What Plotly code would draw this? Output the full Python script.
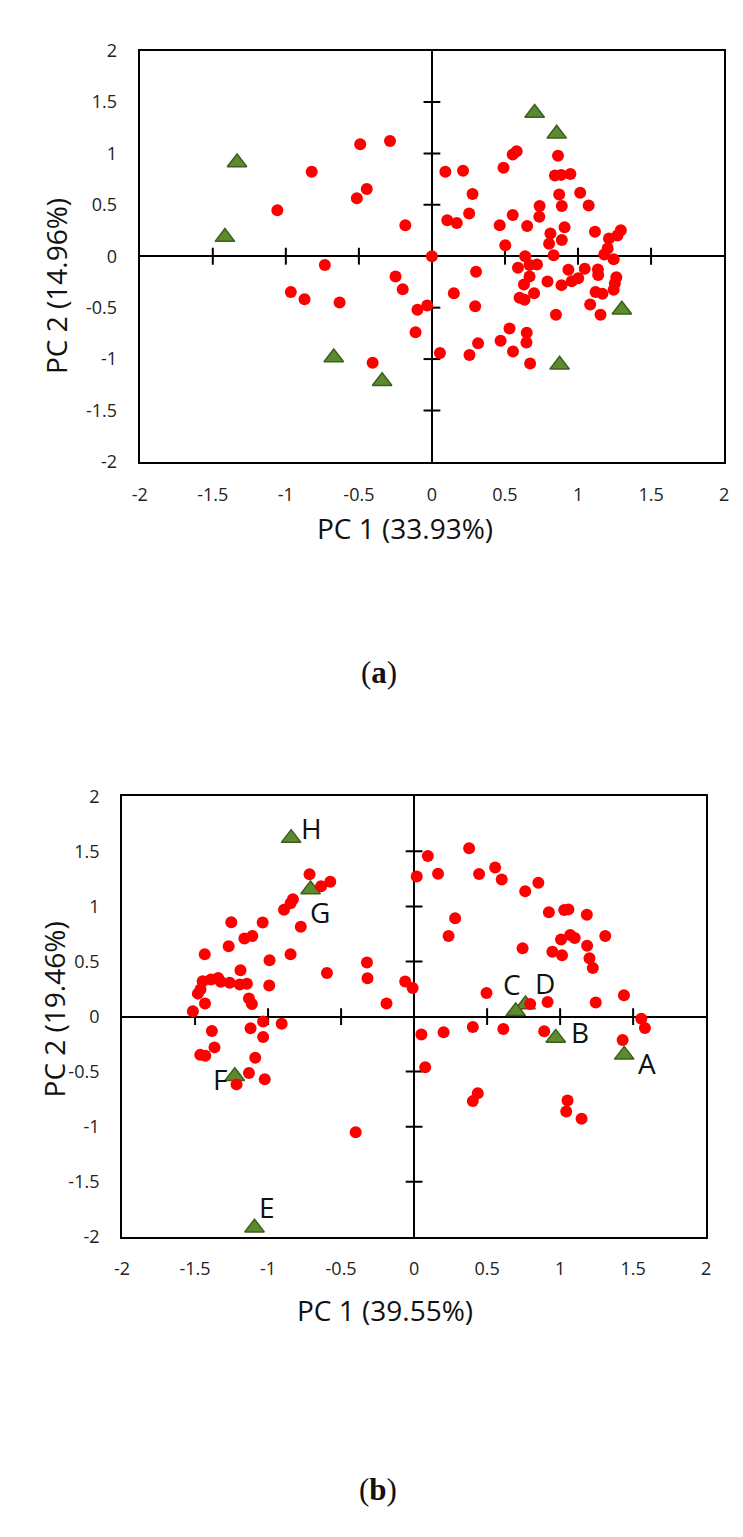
import plotly.graph_objects as go

# ---------------- data: panel (a) ----------------
a_samples_pc1 = [-0.491, -0.287, -0.823, -0.446, -0.514, -1.058, -0.182, 0.0,
                 -0.733, -0.966, -0.872, -0.632, -0.249, -0.200, -0.099, -0.032, -0.112, 0.055, -0.406,
                 0.553, 0.580, 0.863, 0.092, 0.213, 0.490, 0.842, 0.885, 0.948, 0.278, 0.871, 1.015,
                 0.737, 0.889, 1.073, 0.105, 0.170, 0.255, 0.553, 0.735, 0.464, 0.652, 0.908, 0.811,
                 0.802, 0.889, 0.502, 1.116, 1.212, 1.270, 1.293, 1.203, 1.180, 0.638, 0.833, 1.244,
                 0.302, 0.589, 0.668, 0.719, 0.668, 0.630, 0.791, 0.934, 1.046, 0.887, 0.957, 1.001,
                 1.136, 1.138, 1.262, 1.252, 1.244, 1.120, 1.167, 0.600, 0.634, 0.699, 0.150, 0.296,
                 1.083, 1.154, 0.849, 0.531, 0.649, 0.647, 0.470, 0.555, 0.316, 0.257, 0.672]
a_samples_pc2 = [1.088, 1.120, 0.822, 0.653, 0.563, 0.448, 0.301, 0.0,
                 -0.086, -0.348, -0.418, -0.451, -0.198, -0.322, -0.521, -0.480, -0.739, -0.940, -1.036,
                 0.990, 1.020, 0.976, 0.822, 0.832, 0.861, 0.784, 0.791, 0.800, 0.605, 0.599, 0.618,
                 0.489, 0.489, 0.493, 0.349, 0.323, 0.416, 0.400, 0.384, 0.301, 0.295, 0.282, 0.221,
                 0.122, 0.157, 0.106, 0.237, 0.173, 0.202, 0.253, 0.074, 0.016, 0.000, 0.010, -0.030,
                 -0.150, -0.112, -0.086, -0.080, -0.198, -0.275, -0.246, -0.131, -0.121, -0.281, -0.243, -0.214,
                 -0.128, -0.182, -0.204, -0.265, -0.326, -0.348, -0.365, -0.403, -0.422, -0.361, -0.361, -0.486,
                 -0.470, -0.569, -0.569, -0.703, -0.745, -0.838, -0.822, -0.927, -0.845, -0.960, -1.042]
a_ref_pc1 = [-1.334, -1.417, -0.672, -0.341, 0.703, 0.854, 1.300, 0.874]
a_ref_pc2 = [0.912, 0.186, -0.985, -1.215, 1.392, 1.190, -0.520, -1.056]

# ---------------- data: panel (b) ----------------
b_samples_pc1 = [-0.716, -0.637, -0.574, -0.830, -0.846, -0.891, -0.776, -1.252, -1.037, -1.162,
                 -1.108, -1.270, -1.434, -0.846, -0.990, -1.189, -0.597, -0.323, -0.319, -0.061,
                 -0.010, -0.189, -1.448, -1.391, -1.342, -1.324, -1.263, -1.194, -1.145, -0.992,
                 -1.463, -1.481, -1.131, -1.111, -1.432, -1.515, -1.034, -0.907, -1.120, -1.385,
                 -1.034, -1.367, -1.465, -1.430, -1.088, -1.131, -1.023, -1.216, -0.400,
                 0.094, 0.377, 0.018, 0.164, 0.445, 0.555, 0.600, 0.761, 0.851, 0.923,
                 1.028, 1.057, 1.183, 0.281, 0.236, 0.743, 1.006, 1.069, 1.100, 1.309,
                 1.185, 0.947, 1.013, 1.201, 1.224, 0.496, 0.795, 0.914, 1.244, 1.437,
                 1.556, 1.581, 0.050, 0.202, 0.402, 0.611, 0.891, 1.428, 0.076, 0.436,
                 0.402, 1.051, 1.042, 1.147]
b_samples_pc2 = [1.291, 1.184, 1.223, 1.065, 1.029, 0.970, 0.815, 0.857, 0.853, 0.708,
                 0.732, 0.639, 0.565, 0.565, 0.512, 0.420, 0.396, 0.491, 0.348, 0.318,
                 0.259, 0.119, 0.321, 0.336, 0.351, 0.315, 0.306, 0.291, 0.297, 0.282,
                 0.246, 0.208, 0.163, 0.113, 0.119, 0.047, -0.045, -0.066, -0.107, -0.131,
                 -0.185, -0.280, -0.348, -0.357, -0.375, -0.512, -0.569, -0.616, -1.051,
                 1.458, 1.529, 1.271, 1.297, 1.294, 1.354, 1.244, 1.137, 1.214, 0.946,
                 0.967, 0.973, 0.925, 0.893, 0.732, 0.619, 0.699, 0.741, 0.714, 0.732,
                 0.643, 0.589, 0.556, 0.529, 0.440, 0.214, 0.113, 0.131, 0.128, 0.193,
                 -0.021, -0.104, -0.164, -0.143, -0.096, -0.113, -0.134, -0.214, -0.461, -0.696,
                 -0.768, -0.762, -0.863, -0.929]
b_ref_labels = ["A", "B", "D", "C", "E", "F", "G", "H"]
b_ref_pc1 = [1.439, 0.970, 0.763, 0.696, -1.093, -1.228, -0.709, -0.842]
b_ref_pc2 = [-0.348, -0.194, 0.110, 0.047, -1.917, -0.542, 1.154, 1.620]
# label offsets (pixels) relative to each reference triangle
b_label_dx = [23, 24, 19, -4, 12, -15, 9, 20]
b_label_dy = [8, -6, -21, -27, -21, 3, 23, -10]

tick_vals = [-2, -1.5, -1, -0.5, 0, 0.5, 1, 1.5, 2]
tick_text = ["-2", "-1.5", "-1", "-0.5", "0", "0.5", "1", "1.5", "2"]
inner_ticks = [-1.5, -1, -0.5, 0.5, 1, 1.5]

x_titles = ["PC 1 (33.93%)", "PC 1 (39.55%)"]
y_titles = ["PC 2 (14.96%)", "PC 2 (19.46%)"]
panel_tags = ["a", "b"]

# ---------------- layout geometry ----------------
# the page body keeps its default 8px margin, so the figure is placed at (8, 8)
PAGE_W, PAGE_H, BODY = 743, 1537, 8
W, H = PAGE_W - 2 * BODY, PAGE_H - 2 * BODY
FONT = "Open Sans"
RED = "#ff0000"
GREEN = "#5b8a2f"
GREEN_EDGE = "#3e5f20"

def px_x(v):
    return (v - BODY) / W

def px_y(v):
    return 1 - (v - BODY) / H

panels = [
    dict(x0=134, x1=729, y0=38, y1=456),
    dict(x0=116, x1=710.7, y0=795.7, y1=1243.3),
]

fig = go.Figure()

def add_panel(idx, s_x, s_y, r_x, r_y):
    sfx = "" if idx == 0 else str(idx + 1)
    xa, ya = "x" + sfx, "y" + sfx
    # tick crosses on the zero axes
    fig.add_trace(go.Scatter(x=inner_ticks, y=[0] * len(inner_ticks), mode="markers",
                             xaxis=xa, yaxis=ya, hoverinfo="skip", showlegend=False,
                             marker=dict(symbol="line-ns", size=12,
                                         line=dict(width=2, color="black"))))
    fig.add_trace(go.Scatter(x=[0] * len(inner_ticks), y=inner_ticks, mode="markers",
                             xaxis=xa, yaxis=ya, hoverinfo="skip", showlegend=False,
                             marker=dict(symbol="line-ew", size=12,
                                         line=dict(width=2, color="black"))))
    fig.add_trace(go.Scatter(x=r_x, y=r_y, mode="markers", xaxis=xa, yaxis=ya,
                             showlegend=False,
                             marker=dict(symbol="triangle-up", size=17, color=GREEN,
                                         line=dict(width=1.5, color=GREEN_EDGE))))
    fig.add_trace(go.Scatter(x=s_x, y=s_y, mode="markers", xaxis=xa, yaxis=ya,
                             showlegend=False,
                             marker=dict(symbol="circle", size=12, color=RED,
                                         line=dict(width=0))))

add_panel(0, a_samples_pc1, a_samples_pc2, a_ref_pc1, a_ref_pc2)
add_panel(1, b_samples_pc1, b_samples_pc2, b_ref_pc1, b_ref_pc2)

axis_common = dict(range=[-2, 2], tickmode="array", tickvals=tick_vals, ticktext=tick_text,
                   showgrid=False, zeroline=True, zerolinecolor="black", zerolinewidth=2,
                   showline=True, linecolor="black", linewidth=2, mirror=True,
                   ticks="outside", tickcolor="rgba(0,0,0,0)",
                   tickfont=dict(family=FONT, size=18, color="#222222"),
                   fixedrange=True)

layout_axes = {}
for i, p in enumerate(panels):
    sfx = "" if i == 0 else str(i + 1)
    layout_axes["xaxis" + sfx] = dict(axis_common, domain=[px_x(p["x0"]), px_x(p["x1"])],
                                      anchor="y" + sfx, ticklen=15)
    layout_axes["yaxis" + sfx] = dict(axis_common, domain=[px_y(p["y1"]), px_y(p["y0"])],
                                      anchor="x" + sfx, ticklen=17)

annotations = []
# axis titles and panel tags
x_title_pos = [(404, 523), (384, 1318)]
y_title_pos = [(48, 277), (47, 1012)]
tag_pos = [(378, 670), (377, 1500)]
for i in range(2):
    annotations.append(dict(text=x_titles[i], x=px_x(x_title_pos[i][0]), y=px_y(x_title_pos[i][1]),
                            xref="paper", yref="paper", showarrow=False,
                            xanchor="center", yanchor="middle",
                            font=dict(family=FONT, size=28, color="#111111")))
    annotations.append(dict(text=y_titles[i], x=px_x(y_title_pos[i][0]), y=px_y(y_title_pos[i][1]),
                            xref="paper", yref="paper", showarrow=False, textangle=-90,
                            xanchor="center", yanchor="middle",
                            font=dict(family=FONT, size=28, color="#111111")))
    annotations.append(dict(text="(<b>" + panel_tags[i] + "</b>)",
                            x=px_x(tag_pos[i][0]), y=px_y(tag_pos[i][1]),
                            xref="paper", yref="paper", showarrow=False,
                            xanchor="center", yanchor="middle",
                            font=dict(family="Liberation Serif", size=31, color="#111111")))

# letter labels for reference points in panel (b)
for lab, x, y, dx, dy in zip(b_ref_labels, b_ref_pc1, b_ref_pc2, b_label_dx, b_label_dy):
    annotations.append(dict(text=lab, x=x, y=y, xref="x2", yref="y2", showarrow=False,
                            xanchor="center", yanchor="middle", xshift=dx, yshift=-dy,
                            font=dict(family=FONT, size=28, color="#111111")))

fig.update_layout(width=W, height=H, margin=dict(l=0, r=0, t=0, b=0),
                  paper_bgcolor="white", plot_bgcolor="white",
                  showlegend=False, annotations=annotations, **layout_axes)

fig.write_html("out.html")
